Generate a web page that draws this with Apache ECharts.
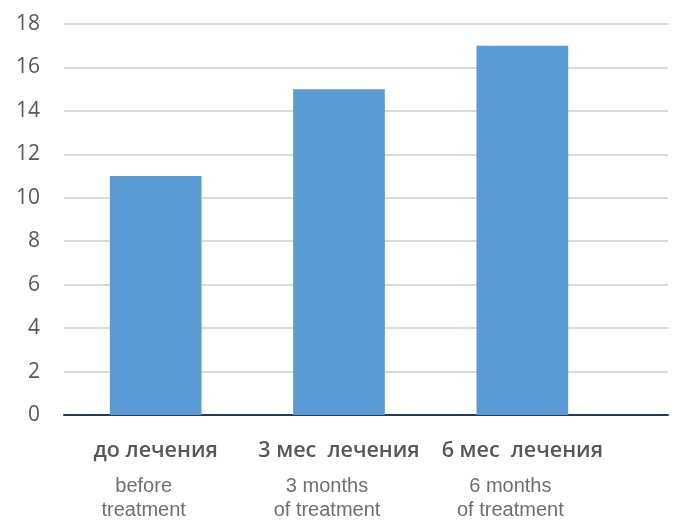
<!DOCTYPE html>
<html>
<head>
<meta charset="utf-8">
<script src="https://cdn.jsdelivr.net/npm/echarts@6/dist/echarts.min.js"></script>
<style>
  html, body { margin: 0; padding: 0; background: #ffffff; }
  #chart { width: 675px; height: 523px; }
</style>
</head>
<body>
<div id="chart"></div>
<script>
// Treatment stages (Russian captions with English translations underneath)
const categoriesRu = ['до лечения', '3 мес  лечения', '6 мес  лечения'];
const categoriesEnLine1 = ['before', '3 months', '6 months'];
const categoriesEnLine2 = ['treatment', 'of treatment', 'of treatment'];
const values = [11, 15, 17];
const yTicks = [0, 2, 4, 6, 8, 10, 12, 14, 16, 18];

const yMin = yTicks[0];
const yMax = yTicks[yTicks.length - 1];
const yStep = yTicks[1] - yTicks[0];

const chart = echarts.init(document.getElementById('chart'));

chart.setOption({
  animation: false,
  grid: [
    // wide frame: gridlines, value labels and baseline
    { left: 64, right: 7, top: 24, bottom: 108 },
    // bar area
    { left: 64, right: 61, top: 24, bottom: 108 }
  ],
  xAxis: [
    {
      gridIndex: 0,
      type: 'category',
      data: [''],
      axisLine: { show: true, lineStyle: { color: '#23395d', width: 2 } },
      axisTick: { show: false },
      axisLabel: { show: false },
      splitLine: { show: false }
    },
    {
      gridIndex: 1,
      type: 'category',
      data: categoriesRu,
      axisLine: { show: false },
      axisTick: { show: false },
      axisLabel: {
        margin: 13,
        interval: 0,
        formatter: function (value, idx) {
          return '{ru|' + categoriesRu[idx] + '}\n{en|' + categoriesEnLine1[idx] + '}\n{en|' + categoriesEnLine2[idx] + '}';
        },
        rich: {
          ru: {
            fontFamily: 'Open Sans',
            fontWeight: 600,
            fontSize: 21.5,
            color: '#53585a',
            lineHeight: 46,
            align: 'center'
          },
          en: {
            fontFamily: 'Liberation Sans',
            fontSize: 20,
            color: '#6e6e6e',
            lineHeight: 24,
            align: 'center',
            padding: [0, 24, 0, 0]
          }
        }
      }
    }
  ],
  yAxis: [
    {
      gridIndex: 0,
      type: 'value',
      min: yMin,
      max: yMax,
      interval: yStep,
      axisLine: { show: false },
      axisTick: { show: false },
      axisLabel: {
        margin: 24,
        fontFamily: 'Open Sans',
        fontWeight: 500,
        fontSize: 21,
        color: '#53585a'
      },
      splitLine: { show: true, lineStyle: { color: '#d9d9d9', width: 2 } }
    },
    {
      gridIndex: 1,
      type: 'value',
      min: yMin,
      max: yMax,
      interval: yStep,
      axisLine: { show: false },
      axisTick: { show: false },
      axisLabel: { show: false },
      splitLine: { show: false }
    }
  ],
  series: [
    {
      type: 'bar',
      xAxisIndex: 1,
      yAxisIndex: 1,
      data: values,
      barWidth: '50%',
      itemStyle: { color: '#5b9bd5' },
      z: 1
    }
  ]
});
</script>
</body>
</html>
